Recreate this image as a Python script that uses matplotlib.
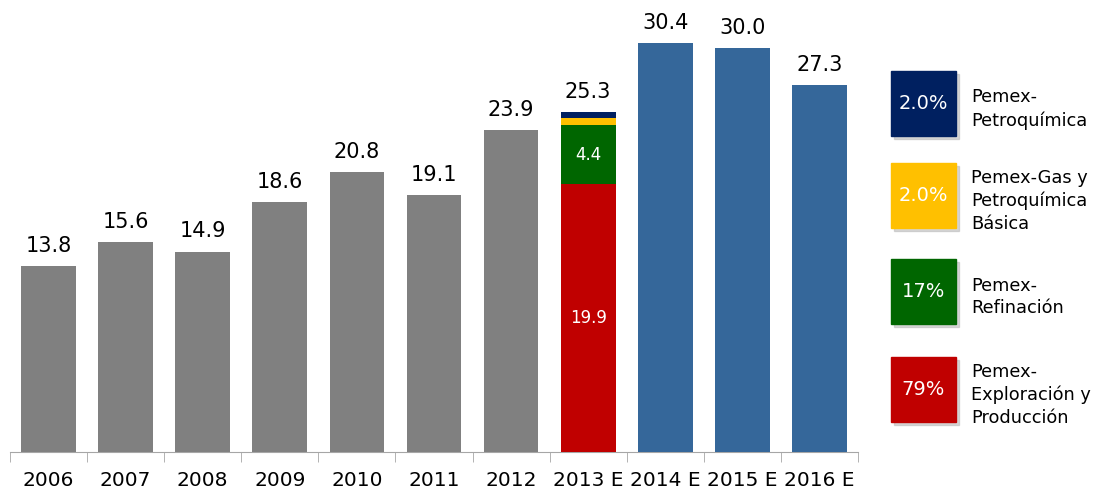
import matplotlib
matplotlib.use("Agg")
import matplotlib.pyplot as plt
from matplotlib.patches import Rectangle
import numpy as np

plt.rcParams["font.family"] = ["DejaVu Sans"]

# ── data ─────────────────────────────────────────────────────────────
years = ["2006", "2007", "2008", "2009", "2010", "2011", "2012",
         "2013 E", "2014 E", "2015 E", "2016 E"]
totals = [13.8, 15.6, 14.9, 18.6, 20.8, 19.1, 23.9, 25.3, 30.4, 30.0, 27.3]

# 2013 E split by subsidiary (bottom -> top)
split_names = ["Pemex-\nExploración y\nProducción", "Pemex-\nRefinación",
               "Pemex-Gas y\nPetroquímica\nBásica", "Pemex-\nPetroquímica"]
split_values = [19.9, 4.4, 0.5, 0.5]
split_shares = ["79%", "17%", "2.0%", "2.0%"]
split_labels = ["19.9", "4.4", "", ""]

GRAY = "#808080"
BLUE = "#35679A"
split_colors = ["#C00000", "#006600", "#FFC000", "#002060"]

W, H = 1099, 492
fig = plt.figure(figsize=(W / 100, H / 100), dpi=100)
fig.patch.set_facecolor("white")
ax = fig.add_axes([10 / W, (H - 452) / H, 848 / W, 452 / H])

x = np.arange(len(years))
bw = 0.71
split_idx = years.index("2013 E")

for i, (yr, v) in enumerate(zip(years, totals)):
    if i == split_idx:
        bottom = 0
        for val, col, lab in zip(split_values, split_colors, split_labels):
            ax.bar(i, val, bw, bottom=bottom, color=col, zorder=3)
            if lab:
                ax.text(i, bottom + val / 2, lab, ha="center", va="center",
                        color="white", fontsize=12, zorder=4)
            bottom += val
    else:
        col = BLUE if yr.endswith("E") else GRAY
        ax.bar(i, v, bw, color=col, zorder=3)
    ax.text(i, v + 0.75, f"{v:.1f}", ha="center", va="bottom",
            fontsize=15, color="black")

ax.set_xlim(-0.5, len(years) - 0.5)
ax.set_ylim(0, 33.6)
for s in ["top", "right", "left"]:
    ax.spines[s].set_visible(False)
ax.spines["bottom"].set_color("#A6A6A6")
ax.set_yticks([])
ax.set_xticks(x)
ax.set_xticklabels(years, fontsize=14.5)
ax.tick_params(axis="x", length=0, pad=14)
ax.set_xticks(np.arange(-0.5, len(years)), minor=True)
ax.tick_params(axis="x", which="minor", length=7, color="#A6A6A6")

# ── legend boxes drawn in pixel space ───────────────────────────────
ov = fig.add_axes([0, 0, 1, 1])
ov.set_xlim(0, W)
ov.set_ylim(H, 0)
ov.axis("off")
ov.patch.set_alpha(0)

box_tops = [357, 259, 163, 71]
for name, share, col, top in zip(split_names, split_shares, split_colors, box_tops):
    ov.add_patch(Rectangle((894, top + 3), 65, 65, color="#BBBBBB", alpha=0.6, zorder=1))
    ov.add_patch(Rectangle((891, top), 65, 65, color=col, zorder=2))
    ov.text(923.5, top + 32.5, share, ha="center", va="center",
            color="white", fontsize=14, zorder=3)
    ov.text(971, top + 38, name, ha="left", va="center", fontsize=12.8,
            linespacing=1.33, color="black")

fig.savefig("out.png", dpi=100, facecolor="white")
